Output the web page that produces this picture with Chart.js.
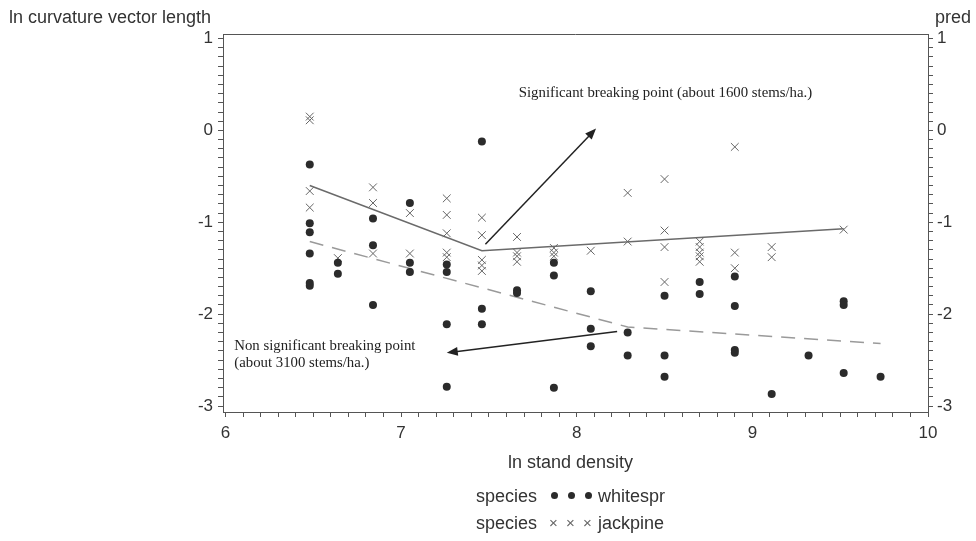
<!DOCTYPE html>
<html>
<head>
<meta charset="utf-8">
<script src="https://cdn.jsdelivr.net/npm/chart.js@4.4.1/dist/chart.umd.min.js"></script>
<style>
  body { margin: 0; background: #fff; }
  #wrap { position: relative; width: 976px; height: 541px; font-family: "Liberation Sans", Arial, sans-serif; color: #333; }
  .lbl { position: absolute; white-space: nowrap; font-size: 18px; line-height: 20px; }
  .dot { position: absolute; width: 7px; height: 7px; border-radius: 50%; background: #2b2b2b; }
  .cruz { position: absolute; font-size: 15px; line-height: 16px; color: #666; }
</style>
</head>
<body>
<div id="wrap">
  <canvas id="grafica" width="976" height="541"></canvas>
  <div class="lbl" style="left:9px;top:7px;">ln curvature vector length</div>
  <div class="lbl" style="left:935px;top:7px;">pred</div>
  <div class="lbl" style="left:508px;top:452px;">ln stand density</div>
  <div class="lbl" style="left:476px;top:486px;">species</div>
  <div class="dot" style="left:551px;top:492px;"></div>
  <div class="dot" style="left:568px;top:492px;"></div>
  <div class="dot" style="left:585px;top:492px;"></div>
  <div class="lbl" style="left:598px;top:486px;">whitespr</div>
  <div class="lbl" style="left:476px;top:513px;">species</div>
  <div class="cruz" style="left:549px;top:515px;">×</div>
  <div class="cruz" style="left:566px;top:515px;">×</div>
  <div class="cruz" style="left:583px;top:515px;">×</div>
  <div class="lbl" style="left:598px;top:513px;">jackpine</div>
</div>
<script>
// Puntos de whitespr (ln densidad, ln longitud vector curvatura)
var whitesprX = [6.48, 6.48, 6.48, 6.48, 6.48, 6.48,
                 6.64, 6.64,
                 6.84, 6.84, 6.84,
                 7.05, 7.05, 7.05,
                 7.26, 7.26, 7.26, 7.26,
                 7.46, 7.46, 7.46,
                 7.66, 7.66,
                 7.87, 7.87, 7.87,
                 8.08, 8.08, 8.08,
                 8.29, 8.29,
                 8.50, 8.50, 8.50,
                 8.70, 8.70,
                 8.90, 8.90, 8.90, 8.90,
                 9.11,
                 9.32,
                 9.52, 9.52, 9.52,
                 9.73];
var whitesprY = [-0.37, -1.01, -1.11, -1.34, -1.66, -1.69,
                 -1.44, -1.56,
                 -0.96, -1.25, -1.90,
                 -0.79, -1.44, -1.54,
                 -1.46, -1.54, -2.11, -2.79,
                 -0.12, -1.94, -2.11,
                 -1.74, -1.77,
                 -1.44, -1.58, -2.80,
                 -1.75, -2.16, -2.35,
                 -2.20, -2.45,
                 -1.80, -2.45, -2.68,
                 -1.65, -1.78,
                 -1.59, -1.91, -2.39, -2.42,
                 -2.87,
                 -2.45,
                 -1.86, -1.90, -2.64,
                 -2.68];

// Puntos de jackpine
var jackpineX = [6.48, 6.48, 6.48, 6.48,
                 6.64,
                 6.84, 6.84, 6.84,
                 7.05, 7.05,
                 7.26, 7.26, 7.26, 7.26, 7.26,
                 7.46, 7.46, 7.46, 7.46, 7.46,
                 7.66, 7.66, 7.66, 7.66,
                 7.87, 7.87, 7.87,
                 8.08,
                 8.29, 8.29,
                 8.50, 8.50, 8.50, 8.50,
                 8.70, 8.70, 8.70, 8.70, 8.70,
                 8.90, 8.90, 8.90,
                 9.11, 9.11,
                 9.52];
var jackpineY = [0.15, 0.11, -0.66, -0.84,
                 -1.39,
                 -0.62, -0.79, -1.34,
                 -0.90, -1.34,
                 -0.74, -0.92, -1.12, -1.33, -1.38,
                 -0.95, -1.14, -1.41, -1.47, -1.53,
                 -1.16, -1.33, -1.37, -1.43,
                 -1.28, -1.33, -1.37,
                 -1.31,
                 -0.68, -1.21,
                 -0.53, -1.09, -1.27, -1.65,
                 -1.21, -1.27, -1.33, -1.37, -1.43,
                 -0.18, -1.33, -1.50,
                 -1.27, -1.38,
                 -1.08];

// Rectas segmentadas (pred)
var predJackX = [6.48, 7.46, 9.52];
var predJackY = [-0.60, -1.31, -1.07];
var predWhiteX = [6.48, 8.29, 9.73];
var predWhiteY = [-1.21, -2.14, -2.32];

// Ticks de los ejes
var xTicks = [6, 7, 8, 9, 10];
var yTicks = [1, 0, -1, -2, -3];

function pares(xs, ys) {
  return xs.map(function(x, i) { return { x: x, y: ys[i] }; });
}

// Flechas y textos de anotacion (en unidades de datos)
var flechas = [
  [7.48, -1.24, 8.11, 0.02],
  [8.23, -2.19, 7.26, -2.42]
];
var textos = [
  { x: 7.67, y: 0.41, t: 'Significant breaking point (about 1600 stems/ha.)' },
  { x: 6.05, y: -2.35, t: 'Non significant breaking point' },
  { x: 6.05, y: -2.53, t: '(about 3100 stems/ha.)' }
];

var anotaciones = {
  id: 'anotaciones',
  afterDraw: function(chart) {
    var ctx = chart.ctx, a = chart.chartArea;
    var sx = chart.scales.x, sy = chart.scales.y;
    ctx.save();
    // borde superior del marco
    ctx.strokeStyle = '#555';
    ctx.lineWidth = 1;
    ctx.beginPath();
    ctx.moveTo(a.left, a.top + 0.5);
    ctx.lineTo(a.right, a.top + 0.5);
    ctx.stroke();
    // flechas
    ctx.strokeStyle = '#222';
    ctx.fillStyle = '#222';
    ctx.lineWidth = 1.5;
    flechas.forEach(function(f) {
      var x1 = sx.getPixelForValue(f[0]), y1 = sy.getPixelForValue(f[1]);
      var x2 = sx.getPixelForValue(f[2]), y2 = sy.getPixelForValue(f[3]);
      var ang = Math.atan2(y2 - y1, x2 - x1);
      var L = 11, W = 4.5;
      ctx.beginPath();
      ctx.moveTo(x1, y1);
      ctx.lineTo(x2 - L * 0.8 * Math.cos(ang), y2 - L * 0.8 * Math.sin(ang));
      ctx.stroke();
      ctx.beginPath();
      ctx.moveTo(x2, y2);
      ctx.lineTo(x2 - L * Math.cos(ang) + W * Math.sin(ang), y2 - L * Math.sin(ang) - W * Math.cos(ang));
      ctx.lineTo(x2 - L * Math.cos(ang) - W * Math.sin(ang), y2 - L * Math.sin(ang) + W * Math.cos(ang));
      ctx.closePath();
      ctx.fill();
    });
    // textos
    ctx.fillStyle = '#222';
    ctx.font = '14.8px "Liberation Serif", "Times New Roman", serif';
    ctx.textBaseline = 'middle';
    ctx.textAlign = 'left';
    textos.forEach(function(t) {
      ctx.fillText(t.t, sx.getPixelForValue(t.x), sy.getPixelForValue(t.y));
    });
    ctx.restore();
  }
};

function etiqueta(lista) {
  return function(v) {
    for (var i = 0; i < lista.length; i++) {
      if (Math.abs(v - lista[i]) < 1e-6) return String(lista[i]);
    }
    return '';
  };
}

var fuenteTicks = { family: '"Liberation Sans", Arial, sans-serif', size: 17 };

var grafica = new Chart(document.getElementById('grafica'), {
  type: 'scatter',
  data: {
    datasets: [
      {
        label: 'whitespr',
        data: pares(whitesprX, whitesprY),
        pointStyle: 'circle',
        pointRadius: 4,
        backgroundColor: '#2b2b2b',
        borderColor: '#2b2b2b',
        borderWidth: 0
      },
      {
        label: 'jackpine',
        data: pares(jackpineX, jackpineY),
        pointStyle: 'crossRot',
        pointRadius: 5.5,
        borderColor: '#666',
        borderWidth: 1
      },
      {
        label: 'pred jackpine',
        data: pares(predJackX, predJackY),
        showLine: true,
        pointRadius: 0,
        borderColor: '#6a6a6a',
        borderWidth: 1.5,
        fill: false
      },
      {
        label: 'pred whitespr',
        data: pares(predWhiteX, predWhiteY),
        showLine: true,
        pointRadius: 0,
        borderColor: '#9a9a9a',
        borderWidth: 1.5,
        borderDash: [14, 9],
        fill: false
      }
    ]
  },
  options: {
    responsive: false,
    animation: false,
    layout: { padding: { top: 34, left: 0, right: 0, bottom: 0 } },
    plugins: { legend: { display: false }, tooltip: { enabled: false } },
    scales: {
      x: {
        type: 'linear',
        min: 5.986,
        max: 10.0,
        afterFit: function(s) { s.height = 129; },
        border: { display: true, color: '#555', width: 1 },
        grid: { drawOnChartArea: false, drawTicks: true, tickLength: 5, color: '#555' },
        ticks: {
          stepSize: 0.1, includeBounds: false, autoSkip: false, maxTicksLimit: 100,
          maxRotation: 0, padding: 6, color: '#333', font: fuenteTicks,
          callback: etiqueta(xTicks)
        }
      },
      y: {
        type: 'linear',
        position: 'left',
        min: -3.065,
        max: 1.049,
        afterFit: function(s) { s.width = 223; },
        border: { display: true, color: '#555', width: 1 },
        grid: { drawOnChartArea: false, drawTicks: true, tickLength: 5, color: '#555' },
        ticks: {
          stepSize: 0.1, includeBounds: false, autoSkip: false, maxTicksLimit: 100,
          padding: 5, color: '#333', font: fuenteTicks,
          callback: etiqueta(yTicks)
        }
      },
      y2: {
        type: 'linear',
        position: 'right',
        min: -3.065,
        max: 1.049,
        afterFit: function(s) { s.width = 48; },
        border: { display: true, color: '#555', width: 1 },
        grid: { drawOnChartArea: false, drawTicks: true, tickLength: 5, color: '#555' },
        ticks: {
          stepSize: 0.1, includeBounds: false, autoSkip: false, maxTicksLimit: 100,
          padding: 4, color: '#333', font: fuenteTicks,
          callback: etiqueta(yTicks)
        }
      }
    }
  },
  plugins: [anotaciones]
});
</script>
</body>
</html>
